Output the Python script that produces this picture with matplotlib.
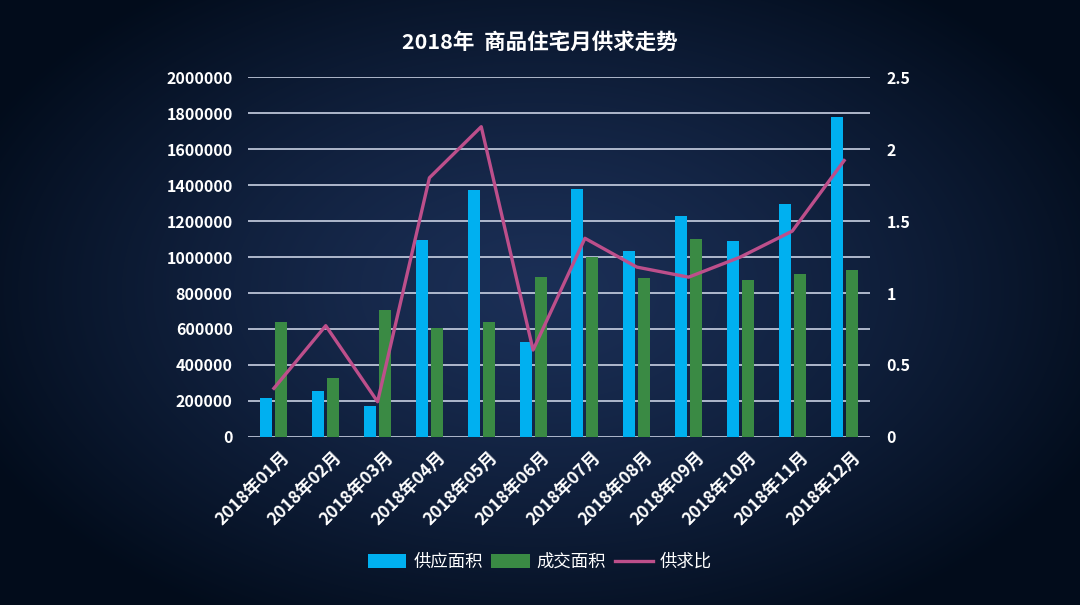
import numpy as np
import matplotlib
matplotlib.use("Agg")
import matplotlib.pyplot as plt
import matplotlib.transforms as mtransforms

plt.rcParams['font.family'] = ['Noto Sans CJK SC', 'DejaVu Sans']

# data
months = ['2018年01月', '2018年02月', '2018年03月', '2018年04月', '2018年05月', '2018年06月',
          '2018年07月', '2018年08月', '2018年09月', '2018年10月', '2018年11月', '2018年12月']
supply = [216000, 255000, 174000, 1093000, 1372000, 528000,
          1376000, 1035000, 1226000, 1089000, 1296000, 1778000]
deal = [640000, 329000, 705000, 607000, 637000, 887000,
        998000, 882000, 1102000, 872000, 906000, 928000]
ratio = [0.338, 0.773, 0.245, 1.80, 2.155, 0.604,
         1.38, 1.18, 1.11, 1.25, 1.43, 1.92]

left_ticks = list(range(0, 2000001, 200000))
right_ticks = [0, 0.5, 1, 1.5, 2, 2.5]
right_labels = ['0', '0.5', '1', '1.5', '2', '2.5']

c_blue = '#00b0f0'
c_green = '#3a8a44'
c_line = '#bd4f8b'
c_grid = '#c9d1e3'

fig = plt.figure(figsize=(10.8, 6.05), dpi=100)

# radial background
bg = fig.add_axes([0, 0, 1, 1], zorder=-10)
yy, xx = np.mgrid[0:605, 0:1080]
r = np.sqrt(((xx - 540) / 620.0) ** 2 + ((yy - 290) / 380.0) ** 2)
r = np.clip(r, 0, 1)
inner = np.array([0x1b, 0x2f, 0x56]) / 255.0
outer = np.array([0x02, 0x0c, 0x1b]) / 255.0
t = r[..., None] ** 1.3
img = inner * (1 - t) + outer * t
bg.imshow(img, aspect='auto', extent=[0, 1, 0, 1])
bg.axis('off')

ax = fig.add_axes([0.2296, 0.2777, 0.5760, 0.5950])
ax.patch.set_alpha(0)
x = np.arange(len(months))
w = 0.23
ax.bar(x - 0.145, supply, w, color=c_blue, label='供应面积', zorder=3)
ax.bar(x + 0.145, deal, w, color=c_green, label='成交面积', zorder=3)
ax.set_ylim(0, 2000000)
ax.set_xlim(-0.5, len(months) - 0.5)
ax.set_yticks(left_ticks)
ax.set_yticklabels([str(v) for v in left_ticks])
ax.grid(axis='y', color=c_grid, lw=1.2, zorder=0)
ax.set_axisbelow(True)
for s in ax.spines.values():
    s.set_visible(False)
ax.tick_params(axis='both', length=0, colors='white')
ax.tick_params(axis='y', pad=11)
for lab in ax.get_yticklabels():
    lab.set_fontsize(11.5)
    lab.set_fontweight('bold')

ax.set_xticks(x)
ax.set_xticklabels(months, rotation=45, ha='right', va='center',
                   rotation_mode='anchor', fontsize=12.5, fontweight='bold')
offset = mtransforms.ScaledTranslation(14 / 100, -13 / 100, fig.dpi_scale_trans)
for lab in ax.get_xticklabels():
    lab.set_transform(lab.get_transform() + offset)

ax2 = ax.twinx()
ax2.plot(x, ratio, color=c_line, lw=2.4, label='供求比', zorder=4)
ax2.set_ylim(0, 2.5)
ax2.set_yticks(right_ticks)
ax2.set_yticklabels(right_labels)
for s in ax2.spines.values():
    s.set_visible(False)
ax2.tick_params(axis='y', length=0, colors='white', pad=12)
for lab in ax2.get_yticklabels():
    lab.set_fontsize(11.5)
    lab.set_fontweight('bold')

fig.text(0.5, 0.93, '2018年  商品住宅月供求走势', ha='center', va='center',
         color='white', fontsize=15.5, fontweight='bold')

h1, l1 = ax.get_legend_handles_labels()
h2, l2 = ax2.get_legend_handles_labels()
leg = fig.legend(h1 + h2, l1 + l2, loc='center', bbox_to_anchor=(0.5, 0.071),
                 ncol=3, frameon=False, fontsize=12.5, handlelength=2.2,
                 handleheight=0.8, handletextpad=0.4, columnspacing=0.5)
for txt in leg.get_texts():
    txt.set_color('white')

fig.savefig('out.png', dpi=100)
